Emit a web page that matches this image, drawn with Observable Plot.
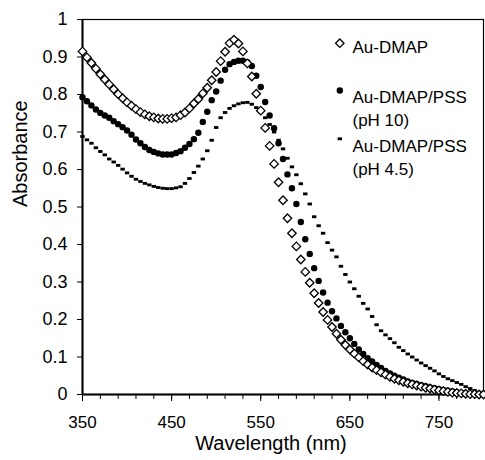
<!DOCTYPE html>
<html><head><meta charset="utf-8">
<script src="https://cdn.jsdelivr.net/npm/d3@7"></script>
<script src="https://cdn.jsdelivr.net/npm/@observablehq/plot@0.6"></script>
<style>body{margin:0;background:#fff}#chart{width:485px;height:460px}</style>
</head><body><div id="chart"></div>
<script>
const wavelengths = [
  350,355,360,365,370,375,380,385,390,395,
  400,405,410,415,420,425,430,435,440,445,
  450,455,460,465,470,475,480,485,490,495,
  500,505,510,515,520,525,530,535,540,545,
  550,555,560,565,570,575,580,585,590,595,
  600,605,610,615,620,625,630,635,640,645,
  650,655,660,665,670,675,680,685,690,695,
  700,705,710,715,720,725,730,735,740,745,
  750,755,760,765,770,775,780,785,790,795,
  800];
const auDmap = [
  0.915,0.899,0.884,0.869,0.854,0.840,0.827,0.814,0.801,0.790,
  0.779,0.770,0.761,0.753,0.747,0.742,0.739,0.736,0.735,0.735,
  0.737,0.739,0.745,0.752,0.763,0.776,0.788,0.803,0.818,0.838,
  0.860,0.889,0.914,0.937,0.946,0.936,0.915,0.883,0.848,0.802,
  0.757,0.711,0.663,0.615,0.566,0.518,0.470,0.430,0.395,0.360,
  0.327,0.298,0.270,0.244,0.220,0.199,0.180,0.162,0.146,0.132,
  0.120,0.109,0.099,0.089,0.080,0.072,0.065,0.059,0.053,0.047,
  0.042,0.038,0.034,0.030,0.027,0.024,0.021,0.018,0.016,0.013,
  0.011,0.009,0.007,0.005,0.004,0.003,0.002,0.001,0.001,0.000,
  0.000];
const auDmapPssPh10 = [
  0.793,0.782,0.771,0.760,0.751,0.744,0.738,0.729,0.721,0.713,
  0.704,0.693,0.680,0.670,0.660,0.652,0.647,0.643,0.640,0.640,
  0.640,0.644,0.649,0.658,0.668,0.681,0.698,0.727,0.754,0.785,
  0.808,0.837,0.866,0.881,0.887,0.890,0.890,0.886,0.876,0.850,
  0.820,0.780,0.744,0.710,0.670,0.628,0.587,0.550,0.508,0.460,
  0.414,0.375,0.337,0.303,0.272,0.245,0.222,0.203,0.183,0.166,
  0.150,0.135,0.120,0.108,0.097,0.088,0.079,0.071,0.063,0.056,
  0.050,0.045,0.040,0.035,0.031,0.028,0.025,0.022,0.019,0.017,
  0.014,0.012,0.010,0.008,0.006,0.004,0.003,0.002,0.001,0.000,
  0.000];
const auDmapPssPh45 = [
  0.688,0.679,0.670,0.658,0.648,0.639,0.628,0.620,0.611,0.601,
  0.591,0.582,0.574,0.568,0.563,0.559,0.555,0.552,0.550,0.549,
  0.549,0.551,0.554,0.563,0.576,0.592,0.609,0.628,0.650,0.678,
  0.712,0.738,0.752,0.763,0.770,0.775,0.778,0.779,0.774,0.765,
  0.752,0.738,0.720,0.700,0.678,0.655,0.630,0.607,0.586,0.562,
  0.535,0.508,0.474,0.450,0.430,0.405,0.385,0.367,0.342,0.320,
  0.300,0.282,0.262,0.243,0.228,0.208,0.186,0.170,0.159,0.149,
  0.138,0.126,0.117,0.108,0.100,0.092,0.084,0.077,0.070,0.063,
  0.055,0.048,0.042,0.037,0.032,0.027,0.021,0.016,0.011,0.006,
  0.002];
const xTicks = [350,450,550,650,750];
const xMinorTicks = [350,370,390,410,430,450,470,490,510,530,550,570,590,610,630,650,670,690,710,730,750,770,790];
const yTicks = [0,0.1,0.2,0.3,0.4,0.5,0.6,0.7,0.8,0.9,1];
const xDomain = [350,800];
const yDomain = [0,1];
const xTitle = "Wavelength (nm)";
const yTitle = "Absorbance";
const legendLines = [["Au-DMAP"], ["Au-DMAP/PSS", "(pH 10)"], ["Au-DMAP/PSS", "(pH 4.5)"]];

const rows = (vals) => wavelengths.map((w, i) => ({w, a: vals[i]}));
const dashSymbol = {draw(ctx, size) {
  const s = Math.sqrt(size / Math.PI);
  ctx.moveTo(-s, -0.65 * s); ctx.lineTo(s, -0.65 * s);
  ctx.lineTo(s, 0.65 * s); ctx.lineTo(-s, 0.65 * s); ctx.closePath();
}};

const diamondStyle = {symbol: "diamond2", r: 3.8, fill: "white", stroke: "black", strokeWidth: 1.3};
const dotStyle = {symbol: "circle", r: 3.2, fill: "black", stroke: "none"};
const dashStyle = {symbol: dashSymbol, r: 2.2, fill: "black", stroke: "none"};

// legend layout (pixel offsets from the frame's top-left corner)
const legendSymbolDy = [23.7, 71, 119.3];
const legendFirstLineDy = [21, 71, 120];
const legendLineStep = 23.5;
const legendSymbols = [diamondStyle, dotStyle, dashStyle];
const legendMarks = legendLines.flatMap((lines, k) => [
  Plot.dot([lines[0]], {x: null, y: null, frameAnchor: "top-left", dx: 257.3, dy: legendSymbolDy[k], ...legendSymbols[k]}),
  ...lines.map((line, j) => Plot.text([line], {frameAnchor: "top-left", dx: 270, dy: legendFirstLineDy[k] + j * legendLineStep, textAnchor: "start", fontSize: 17, text: d => d}))
]);

const font = '"Liberation Sans", Arial, Helvetica, sans-serif';
const chart = Plot.plot({
  width: 485, height: 460,
  marginLeft: 82, marginRight: 2, marginTop: 19, marginBottom: 66,
  style: {fontFamily: font, fontSize: "17px", color: "black", background: "white"},
  x: {domain: xDomain, label: null},
  y: {domain: yDomain, label: null},
  marks: [
    Plot.frame({stroke: "black", strokeWidth: 1.2}),
    Plot.axisX({ticks: xMinorTicks, tickSize: 5, tickFormat: () => "", label: null}),
    Plot.axisX({ticks: xTicks, tickSize: 7, tickPadding: 14, tickFormat: d => String(d), label: null, fontSize: 17}),
    Plot.axisY({ticks: yTicks, tickSize: 5, tickPadding: 10, tickFormat: d => String(d), label: null, fontSize: 18}),
    Plot.ruleX([xDomain[0]], {stroke: "black", strokeWidth: 2}),
    Plot.ruleY([yDomain[0]], {stroke: "black", strokeWidth: 2}),
    Plot.dot(rows(auDmapPssPh45), {x: "w", y: "a", ...dashStyle}),
    Plot.dot(rows(auDmapPssPh10), {x: "w", y: "a", ...dotStyle}),
    Plot.dot(rows(auDmap), {x: "w", y: "a", ...diamondStyle}),
    Plot.text([xTitle], {frameAnchor: "bottom", dx: -12, dy: 55.6, fontSize: 20, text: d => d}),
    Plot.text([yTitle], {frameAnchor: "left", rotate: -90, dx: -61.7, fontSize: 20, text: d => d}),
    ...legendMarks
  ]
});
document.getElementById("chart").appendChild(chart);
</script>
</body></html>
